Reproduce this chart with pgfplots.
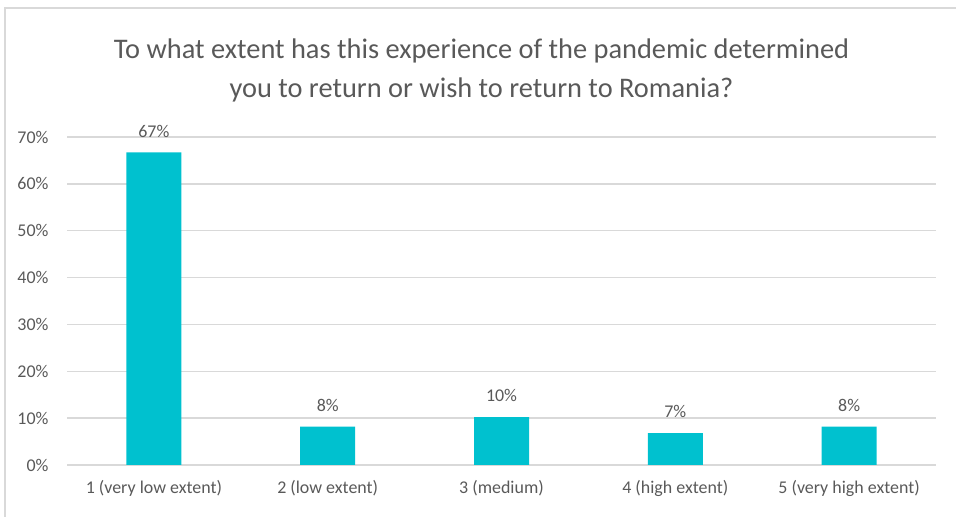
\documentclass[border=0pt]{standalone}
\usepackage{pgfplots}
\pgfplotsset{compat=1.18}
\usepackage{fontspec}
\setmainfont{Carlito}
\definecolor{barc}{HTML}{00C1CF}
\definecolor{txt}{HTML}{595959}
\definecolor{gridc}{HTML}{D9D9D9}
\begin{document}
\begin{tikzpicture}[x=1bp,y=1bp]
\useasboundingbox (0,0) rectangle (956,517);
\draw[gridc, line width=1.5bp] (5,0) -- (5,509) -- (956,509);
\node[txt, font=\fontsize{28.5}{40}\selectfont, align=center, anchor=base] at (481.5,419) {To what extent has this experience of the pandemic determined\\you to return or wish to return to Romania?};
\begin{axis}[
  at={(67bp,52bp)}, anchor=south west,
  scale only axis, width=869bp, height=328bp,
  xmin=-0.5, xmax=4.5, ymin=0, ymax=70,
  axis x line*=bottom, axis y line*=left,
  x axis line style={gridc, line width=1.5bp},
  y axis line style={draw=none},
  ytick={0,10,...,70},
  ymajorgrids, grid style={gridc, line width=1.5bp},
  xtick=data,
  xticklabels={1 (very low extent),2 (low extent),3 (medium),4 (high extent),5 (very high extent)},
  major tick length=0pt,
  tick label style={txt, font=\fontsize{18}{21}\selectfont},
  yticklabel={\pgfmathprintnumber{\tick}\%},
  yticklabel style={anchor=east, xshift=-15bp},
  xticklabel style={anchor=north, yshift=-12bp},
  /pgf/number format/assume math mode=true,
  clip=false,
]
\addplot[ybar, bar width=55bp, fill=barc, draw=none,
  nodes near coords={\pgfmathprintnumber[fixed,precision=0]{\pgfplotspointmeta}\%},
  nodes near coords style={txt, font=\fontsize{18}{21}\selectfont, anchor=south, inner sep=0pt, yshift=15bp},
] coordinates {(0,66.7) (1,8.2) (2,10.2) (3,6.8) (4,8.2)};
\end{axis}
\end{tikzpicture}
\end{document}
